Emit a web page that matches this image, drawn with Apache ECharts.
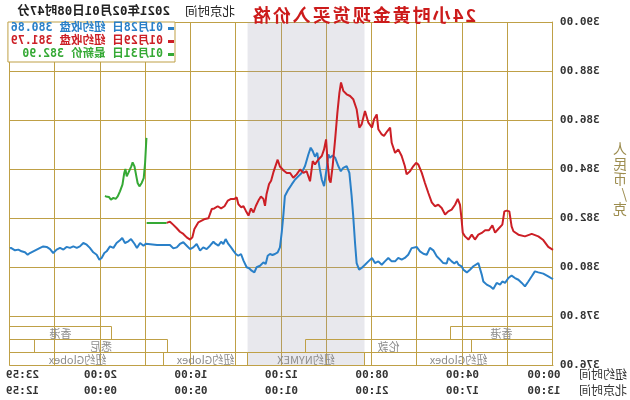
<!DOCTYPE html>
<html>
<head>
<meta charset="utf-8">
<script src="https://cdn.jsdelivr.net/npm/echarts@6.0.0/dist/echarts.min.js"></script>
<style>
html,body{margin:0;padding:0;background:#fff;}
#chart{width:630px;height:400px;transform:scaleX(-1);}
</style>
</head>
<body>
<div id="chart"></div>
<script>
// ---------- data (hours are New York time, 0 = 00:00) ----------
const titleText = '24小时黄金现货买入价格';
const stampLabel = '北京时间';
const stampText = '2021年02月01日08时47分';
const unitText = '人民币/克';
const rowHeaders = ['纽约时间', '北京时间'];
const tickHours = [0, 4, 8, 12, 16, 20, 24];
const tickLabelsNY = ['00:00', '04:00', '08:00', '12:00', '16:00', '20:00', '23:59'];
const tickLabelsBJ = ['13:00', '17:00', '21:00', '01:00', '05:00', '09:00', '12:59'];

const legendDates = ['01月28日', '01月29日', '01月31日'];
const legendKinds = ['纽约收盘', '纽约收盘', '最新价'];
const legendValues = ['380.86', '381.79', '382.90'];

const nymexHours = [8.33, 13.5];

const sessionNames = ['香港', '香港', '伦敦', '悉尼', '纽约Globex', '纽约NYMEX', '纽约Globex', '纽约Globex'];
const sessionStart = [0, 19.5, 3.6, 17.0, 0, 8.33, 13.5, 18.0];
const sessionEnd   = [4.5, 24, 10.9, 22.9, 8.33, 13.5, 17.2, 24];
const sessionRow   = [0, 0, 1, 1, 2, 2, 2, 2];

const blueSeries = [
[0,379.5],[0.21,379.62],[0.43,379.73],[0.65,379.78],[0.8,379.82],[0.94,379.62],[1.09,379.41],[1.24,379.21],
[1.38,379.35],[1.53,379.48],[1.68,379.55],[1.83,379.65],[1.97,379.55],[2.12,379.35],[2.24,379.41],[2.34,379.28],
[2.49,379.35],[2.64,379.1],[2.78,379.21],[2.93,379.28],[3.08,379.41],[3.15,379.69],[3.3,380.16],[3.37,380.19],
[3.52,380.03],[3.67,379.89],[3.81,379.78],[3.96,379.89],[4.04,380.03],[4.18,380.1],[4.26,380.23],[4.36,380.14],
[4.48,380.23],[4.63,380.37],[4.7,380.14],[4.85,380.16],[4.99,380.3],[5.14,380.44],[5.29,380.68],[5.44,380.78],
[5.58,380.5],[5.73,380.54],[5.88,380.64],[6.03,380.82],[6.1,380.84],[6.25,380.77],[6.4,380.5],[6.55,380.37],
[6.69,380.3],[6.84,380.37],[6.98,380.23],[7.13,380.23],[7.28,380.37],[7.43,380.23],[7.57,380.09],[7.72,380.23],
[7.87,380.16],[8.0,380.37],[8.16,380.23],[8.31,380.09],[8.46,379.96],[8.57,379.89],[8.68,380.16],[8.75,380.98],
[8.83,382.07],[8.9,382.89],[9.0,383.84],[9.12,384.12],[9.27,384.05],[9.38,383.91],[9.49,384.12],[9.63,384.46],
[9.74,384.55],[9.86,384.46],[9.93,384.6],[10.0,384.05],[10.12,383.3],[10.22,383.57],[10.33,384.12],[10.42,384.66],
[10.52,384.5],[10.62,384.73],[10.71,384.87],[10.81,384.6],[10.96,384.12],[11.11,383.84],[11.25,383.71],[11.4,383.57],
[11.55,383.37],[11.7,383.16],[11.85,382.9],[11.92,382.1],[11.99,381.41],[12.07,380.8],[12.17,380.6],[12.29,380.53],
[12.4,380.49],[12.51,380.53],[12.61,380.46],[12.7,380.12],[12.8,380.19],[12.95,380.05],[13.1,379.99],[13.2,379.78],
[13.32,379.85],[13.43,379.95],[13.54,379.99],[13.68,380.26],[13.79,380.53],[13.91,380.46],[14.02,380.53],[14.13,380.67],
[14.23,380.8],[14.35,380.94],[14.47,381.14],[14.57,380.94],[14.67,381.03],[14.79,380.87],[14.91,380.94],[15.01,381.03],
[15.16,380.87],[15.31,380.73],[15.46,380.8],[15.6,380.67],[15.75,380.94],[15.9,380.8],[16.04,380.73],[16.19,380.87],
[16.34,381.01],[16.49,380.94],[16.63,380.8],[16.78,380.76],[16.93,380.9],[17.08,380.9],[17.5,380.9],[18.0,380.95],
[18.1,380.87],[18.25,380.98],[18.39,380.78],[18.5,380.95],[18.65,381.14],[18.77,381.05],[18.92,380.98],[19.04,381.18],
[19.14,381.09],[19.29,380.98],[19.43,380.78],[19.58,380.84],[19.73,380.64],[19.83,380.57],[19.95,380.37],[20.05,380.3],
[20.17,380.5],[20.32,380.6],[20.47,380.78],[20.61,380.91],[20.76,380.98],[20.91,380.84],[21.05,380.78],[21.2,380.84],
[21.35,380.78],[21.5,380.82],[21.64,380.71],[21.79,380.78],[21.94,380.71],[22.09,380.57],[22.23,380.73],[22.38,380.82],
[22.53,380.84],[22.67,380.78],[22.82,380.71],[22.97,380.64],[23.12,380.57],[23.22,380.5],[23.34,380.6],[23.49,380.64],
[23.63,380.71],[23.78,380.68],[23.96,380.78],[24,380.76]
];

const redSeries = [
[0,380.7],[0.21,380.82],[0.43,381.1],[0.65,381.25],[0.94,381.35],[1.24,381.25],[1.53,381.32],[1.75,381.46],
[1.83,381.66],[1.93,382.27],[2.05,382.3],[2.15,382.27],[2.24,381.73],[2.42,381.55],[2.56,381.4],[2.68,381.7],
[2.83,381.5],[3.0,381.5],[3.15,381.39],[3.3,381.32],[3.45,381.12],[3.59,381.32],[3.74,381.12],[3.89,381.25],
[3.99,381.4],[4.04,381.93],[4.11,382.54],[4.21,382.78],[4.33,382.54],[4.48,382.34],[4.63,382.27],[4.77,382.14],
[4.92,382.41],[5.07,382.54],[5.22,382.48],[5.36,382.64],[5.51,383.02],[5.66,383.43],[5.8,383.84],[5.95,384.18],
[6.05,384.25],[6.17,384.12],[6.32,383.91],[6.47,383.78],[6.55,384.12],[6.69,384.53],[6.84,384.8],[6.98,384.66],
[7.13,385.07],[7.2,385.69],[7.32,385.55],[7.47,385.35],[7.57,385.41],[7.72,385.62],[7.79,386.23],[7.91,386.03],
[8.0,385.69],[8.16,385.89],[8.31,386.37],[8.46,385.82],[8.56,385.69],[8.68,386.44],[8.83,386.85],[8.97,386.98],
[9.12,387.05],[9.27,387.19],[9.37,387.53],[9.44,387.12],[9.53,386.3],[9.63,385.21],[9.74,384.12],[9.83,383.44],
[9.89,383.57],[9.96,384.25],[10.03,385.21],[10.12,384.8],[10.22,384.53],[10.37,384.39],[10.52,384.19],[10.62,384.32],
[10.74,383.5],[10.89,383.91],[11.03,383.84],[11.18,383.98],[11.33,383.78],[11.48,383.64],[11.62,383.84],[11.77,383.84],
[11.92,383.95],[12.07,384.1],[12.17,384.38],[12.26,384.14],[12.36,383.86],[12.46,383.52],[12.55,383.39],[12.66,382.98],
[12.73,382.5],[12.8,382.78],[12.91,382.88],[13.02,382.71],[13.13,382.5],[13.24,382.23],[13.35,382.39],[13.46,382.1],
[13.58,382.3],[13.68,382.48],[13.79,382.44],[13.91,382.57],[13.98,382.84],[14.08,382.78],[14.23,382.78],[14.37,382.71],
[14.52,382.48],[14.67,382.39],[14.82,382.48],[14.97,382.39],[15.08,382.37],[15.23,381.99],[15.38,381.96],[15.53,381.89],
[15.68,381.82],[15.75,381.76],[15.85,381.55],[15.94,381.21],[16.04,381.12],[16.19,381.21],[16.34,381.35],[16.49,381.44],
[16.63,381.58],[16.78,381.72],[16.93,381.85],[17.08,381.8]
];

const greenFlat = [[17.08,381.8],[17.96,381.8]];
const greenSeries = [
[17.97,385.27],[18.03,384.24],[18.09,383.63],[18.18,383.43],[18.28,383.29],[18.36,383.43],[18.43,383.77],[18.5,384.11],
[18.58,384.27],[18.64,384.11],[18.7,384.18],[18.77,383.84],[18.84,383.7],[18.9,384.0],[18.95,383.84],[19.03,383.36],
[19.14,383.09],[19.24,382.88],[19.33,382.78],[19.43,382.82],[19.54,382.75],[19.63,382.86],[19.7,382.91],[19.76,382.88],
[19.8,382.9]
];

// ---------- styles ----------
const gold = '#BFA046';
const colors = ['#2A80C8', '#CC1F26', '#35A935'];
const monoFont = "'DejaVu Sans Mono','Noto Sans CJK SC',monospace";
const cjkFont = "'Noto Sans CJK SC',sans-serif";
const sessionBandTop = 377.6;
const sessionRowHeight = 0.533;

const chart = echarts.init(document.getElementById('chart'));

const labelRich = {
  l: {fontSize: 11, fontWeight: 'bold', fontFamily: monoFont, color: '#333', lineHeight: 16, padding: [0, 0, 0, 18]},
  m: {fontSize: 11, fontWeight: 'bold', fontFamily: monoFont, color: '#333', lineHeight: 16},
  r: {fontSize: 11, fontWeight: 'bold', fontFamily: monoFont, color: '#333', lineHeight: 16, padding: [0, 25, 0, 0]}
};

const greenData = greenFlat.concat([[17.965, null]], greenSeries);
const seriesNames = legendDates;

chart.setOption({
  backgroundColor: '#fff',
  animation: false,
  title: {
    text: titleText.split('').map(c => '{c|' + c + '}').join(''),
    left: 148, top: 1,
    textStyle: {rich: {c: {fontSize: 18, fontWeight: 'bold', color: '#CC1B1B', fontFamily: cjkFont, padding: [0, 1, 0, 1]}}}
  },
  grid: {left: 77, right: 10, top: 22, bottom: 35, containLabel: false, outerBoundsMode: 'none'},
  legend: {
    orient: 'vertical', left: 455, top: 22, padding: [0, 3, 1, 1],
    itemGap: 0, itemWidth: 6, itemHeight: 3, icon: 'rect',
    backgroundColor: '#fff', borderColor: gold, borderWidth: 1, borderRadius: 0,
    data: seriesNames.map((n, i) => ({name: n, textStyle: {color: colors[i]}})),
    formatter: function (name) {
      const i = seriesNames.indexOf(name);
      return name + ' ' + legendKinds[i] + ' ' + legendValues[i];
    },
    textStyle: {fontSize: 11.5, lineHeight: 13, fontFamily: monoFont, fontWeight: 'bold'}
  },
  graphic: [
    {type: 'text', left: 395, top: 5, style: {text: stampLabel, font: '12.5px ' + cjkFont, fill: '#222'}},
    {type: 'text', left: 460, top: 5, style: {text: stampText, font: 'bold 12.5px ' + monoFont, fill: '#222'}},
    {type: 'text', left: 3, top: 141, style: {text: unitText.split('').join('\n'), font: '14px ' + cjkFont, lineHeight: 15, fill: '#9C8C4E', align: 'center'}},
    {type: 'text', left: 3, top: 368, style: {text: rowHeaders[0], font: '12px ' + cjkFont, fill: '#333'}},
    {type: 'text', left: 3, top: 384, style: {text: rowHeaders[1], font: '12px ' + cjkFont, fill: '#333'}}
  ],
  xAxis: {
    type: 'value', min: 0, max: 24, interval: 2,
    axisLine: {show: true, lineStyle: {color: gold, width: 1}},
    axisTick: {show: false},
    splitLine: {show: true, lineStyle: {color: gold, width: 1}},
    axisLabel: {
      margin: 2,
      formatter: function (v) {
        const i = tickHours.indexOf(v);
        if (i < 0) return '';
        const tag = i === 0 ? 'l' : (i === tickHours.length - 1 ? 'r' : 'm');
        return '{' + tag + '|' + tickLabelsNY[i] + '}\n{' + tag + '|' + tickLabelsBJ[i] + '}';
      },
      rich: labelRich
    }
  },
  yAxis: {
    type: 'value', min: 376, max: 390, interval: 2,
    axisLine: {show: true, lineStyle: {color: gold, width: 1}},
    axisTick: {show: false},
    splitLine: {show: true, lineStyle: {color: gold, width: 1}},
    axisLabel: {
      margin: 7, fontSize: 11, fontWeight: 'bold', fontFamily: monoFont, color: '#333',
      formatter: v => v.toFixed(2)
    }
  },
  series: [
    {
      name: seriesNames[0], type: 'line', data: blueSeries, showSymbol: false, symbol: 'none',
      lineStyle: {color: colors[0], width: 2}, itemStyle: {color: colors[0]}, z: 3,
      markArea: {
        silent: true,
        itemStyle: {color: 'rgba(150,150,172,0.22)'},
        data: [[{xAxis: nymexHours[0]}, {xAxis: nymexHours[1]}]]
      }
    },
    {
      name: seriesNames[1], type: 'line', data: redSeries, showSymbol: false, symbol: 'none',
      lineStyle: {color: colors[1], width: 2}, itemStyle: {color: colors[1]}, z: 4
    },
    {
      name: seriesNames[2], type: 'line', data: greenData, showSymbol: false, symbol: 'none', connectNulls: false,
      lineStyle: {color: colors[2], width: 2}, itemStyle: {color: colors[2]}, z: 5
    },
    {
      type: 'custom', silent: true, z: 2,
      data: sessionNames.map((n, i) => [sessionStart[i], sessionEnd[i], sessionRow[i]]),
      encode: {x: [0, 1]},
      renderItem: function (params, api) {
        const i = params.dataIndex;
        const s = api.value(0), e = api.value(1), row = api.value(2);
        const top = sessionBandTop - row * sessionRowHeight;
        const p1 = api.coord([s, top]);
        const p2 = api.coord([e, top - sessionRowHeight]);
        const x1 = Math.round(p1[0]) + 0.5, y1 = Math.round(p1[1]) + 0.5;
        const x2 = Math.round(p2[0]) + 0.5, y2 = Math.round(p2[1]) + 0.5;
        return {
          type: 'group',
          children: [
            {type: 'rect', shape: {x: x1, y: y1, width: x2 - x1, height: y2 - y1},
             style: {fill: 'none', stroke: gold, lineWidth: 1}},
            {type: 'text', style: {text: sessionNames[i], x: (x1 + x2) / 2, y: (y1 + y2) / 2 + 1,
             align: 'center', verticalAlign: 'middle', font: '11px ' + cjkFont, fill: '#8C8C8C'}}
          ]
        };
      }
    }
  ]
});
</script>
</body>
</html>
